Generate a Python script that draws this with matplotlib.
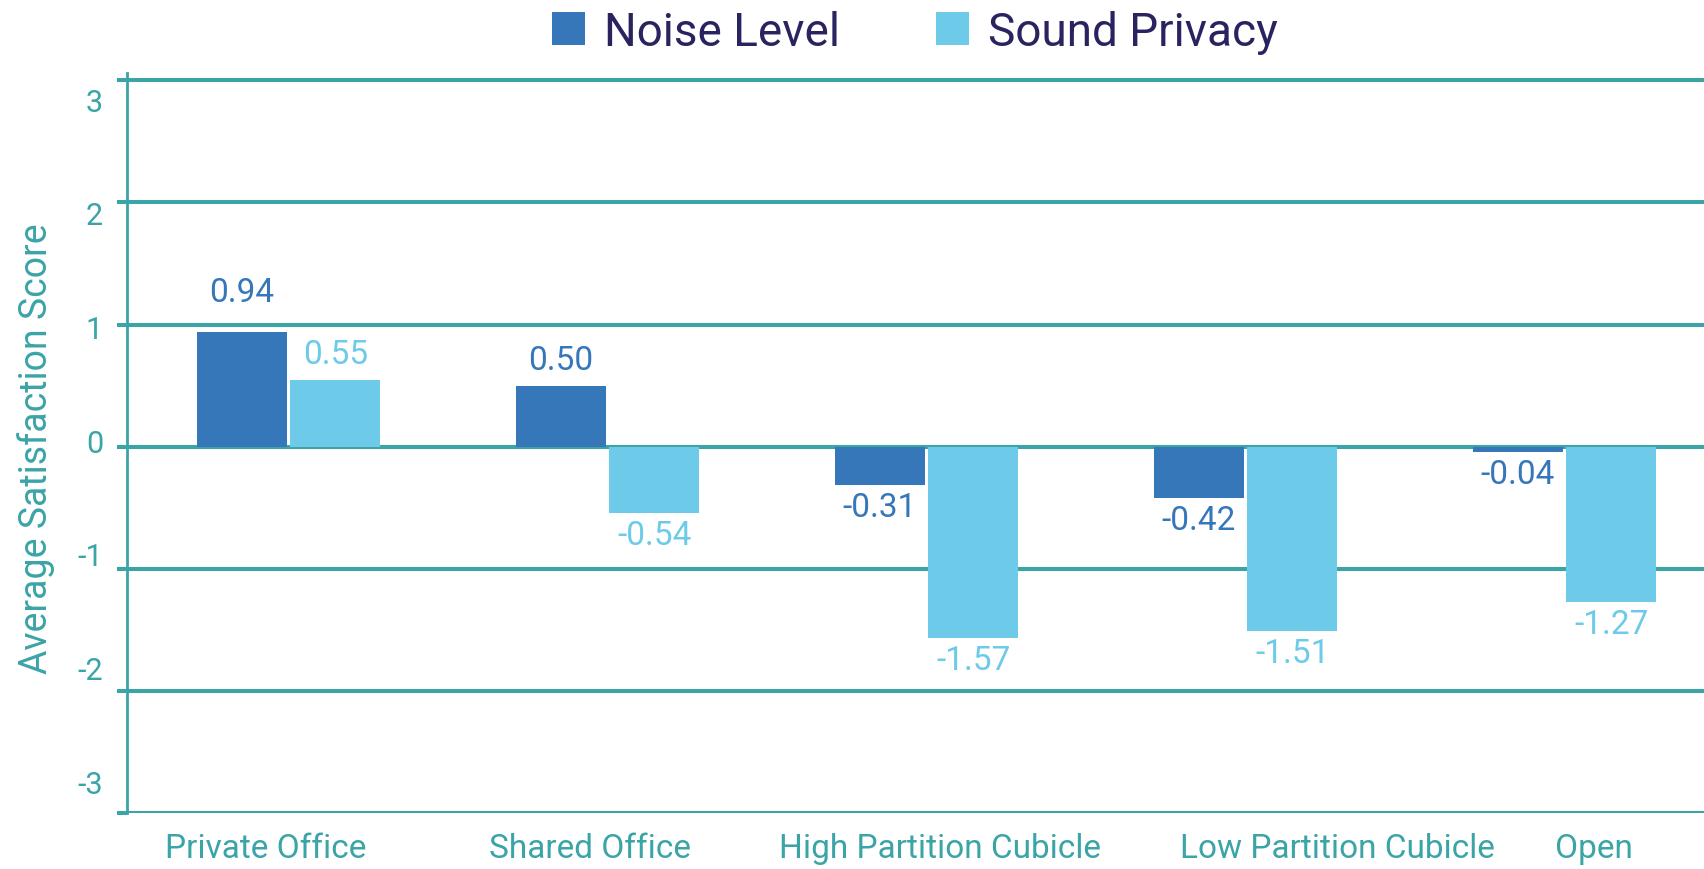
#!/usr/bin/env python3
"""Grouped bar chart: noise level vs sound privacy satisfaction by office type."""

import matplotlib

matplotlib.use("Agg")
import matplotlib.pyplot as plt
import numpy as np

categories = ["Private Office", "Shared Office", "High Partition Cubicle", "Low Partition Cubicle", "Open"]
noise_level = [0.94, 0.50, -0.31, -0.42, -0.04]
sound_privacy = [0.55, -0.54, -1.57, -1.51, -1.27]
series_names = ["Noise Level", "Sound Privacy"]
y_ticks = [-3, -2, -1, 0, 1, 2, 3]

# layout (the category labels sit a little off the bar groups in the original)
label_pos = [-0.07, 0.945, 2.042, 3.287, 4.092]

TEAL = "#3BA4A6"
DARK_BLUE = "#3677BA"
LIGHT_BLUE = "#6DCAE8"
NAVY = "#29245F"


def main() -> int:
    plt.rcParams["font.family"] = ["Roboto", "DejaVu Sans"]

    fig = plt.figure(figsize=(17.04, 8.7), dpi=100)
    ax = fig.add_axes([127 / 1704, 56 / 870, 1 - 127 / 1704, 740 / 870])

    x = np.arange(len(categories))
    width = 0.282
    off = 0.147
    b1 = ax.bar(x - off, noise_level, width, color=DARK_BLUE, label=series_names[0], zorder=3)
    b2 = ax.bar(x + off, sound_privacy, width, color=LIGHT_BLUE, label=series_names[1], zorder=3)

    for bars, vals, col in ((b1, noise_level, DARK_BLUE), (b2, sound_privacy, LIGHT_BLUE)):
        for rect, v in zip(bars, vals):
            cx = rect.get_x() + rect.get_width() / 2
            dy = 26 if v >= 0 else -22
            if v > 0.9:
                dy = 40
            ax.annotate(f"{v:.2f}", (cx, v), xytext=(0, dy * 0.72), textcoords="offset points",
                        ha="center", va="center", fontsize=24, color=col)

    ax.set_xlim(-0.506, 4.437)
    ax.set_ylim(-3, 3.06)
    ax.set_yticks(y_ticks)
    ax.set_yticklabels([])
    ax.grid(axis="y", color=TEAL, linewidth=2.9)
    ax.set_axisbelow(True)
    ax.tick_params(axis="y", length=7.2, width=2.9, color=TEAL, direction="out")

    # y labels drift from their gridlines in the original, keep that
    ytr = ax.get_yaxis_transform()
    for v in y_ticks:
        ax.text(-0.0152, 0.9315 * v + 0.028, str(v), transform=ytr, ha="right", va="center",
                fontsize=22, color=TEAL)

    ax.set_xticks(label_pos)
    ax.set_xticklabels(categories, fontsize=24, color=TEAL)
    ax.tick_params(axis="x", length=0, pad=14)

    for side in ("top", "right", "bottom"):
        ax.spines[side].set_visible(False)
    ax.spines["left"].set_color(TEAL)
    ax.spines["left"].set_linewidth(2)

    fig.text(36 / 1704, 1 - 449 / 870, "Average Satisfaction Score", rotation=90, ha="center",
             va="center", fontsize=27, color=TEAL)

    leg = fig.legend(handles=[b1, b2], loc="upper center", bbox_to_anchor=(0.537, 1.035), ncol=2,
                     frameon=False, fontsize=33, handlelength=0.72, handleheight=0.74,
                     handletextpad=0.42, columnspacing=2.1)
    for t in leg.get_texts():
        t.set_color(NAVY)

    fig.savefig("out.png", dpi=100)
    plt.close(fig)
    return 0


if __name__ == "__main__":
    raise SystemExit(main())
